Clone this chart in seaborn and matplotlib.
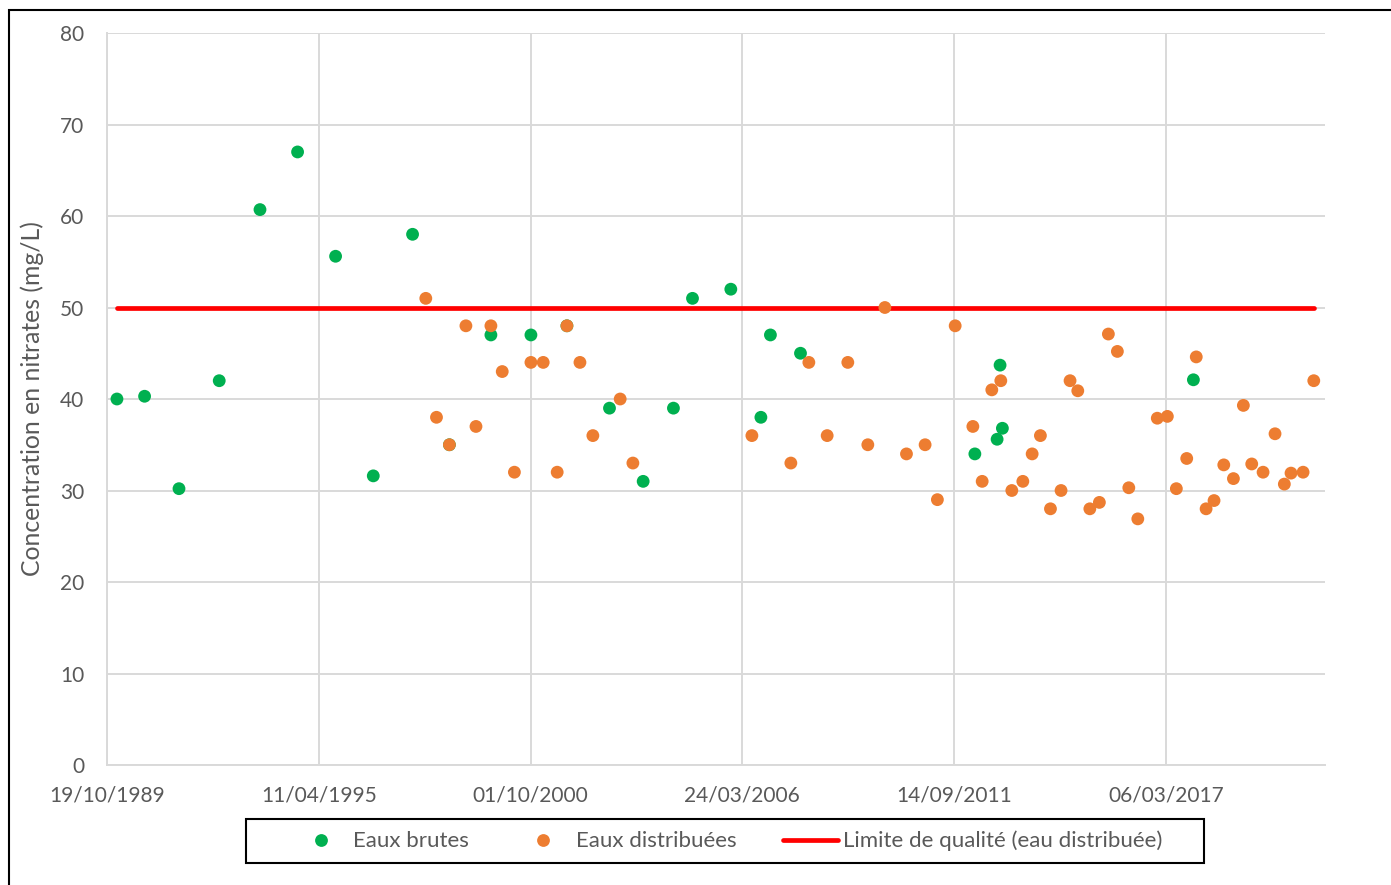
import numpy as np
import pandas as pd
import matplotlib
matplotlib.use("Agg")
import matplotlib.pyplot as plt
import matplotlib.dates as mdates
from matplotlib.lines import Line2D
from matplotlib.patches import Rectangle
import seaborn as sns

# Nitrate concentrations (mg/L) - raw water
brutes_dates = [
    "1990-01-21", "1990-10-09", "1991-08-30", "1992-09-13", "1993-10-03",
    "1994-09-23", "1995-09-17", "1996-09-07", "1997-09-13", "1998-08-27",
    "1999-09-23", "2000-10-05", "2001-09-10", "2002-10-17", "2003-08-31",
    "2004-06-12", "2004-12-09", "2005-12-06", "2006-09-16", "2006-12-15",
    "2007-09-25", "2012-03-29", "2012-10-25", "2012-11-22", "2012-12-14",
    "2017-11-22",
]
brutes_values = [
    40.0, 40.3, 30.2, 42.0, 60.7,
    67.0, 55.6, 31.6, 58.0, 35.0,
    47.0, 47.0, 48.0, 39.0, 31.0,
    39.0, 51.0, 52.0, 38.0, 47.0,
    45.0, 34.0, 35.6, 43.7, 36.8,
    42.1,
]

# Nitrate concentrations (mg/L) - distributed water
distrib_dates = [
    "1998-01-16", "1998-04-27", "1998-08-27", "1999-01-30", "1999-05-05",
    "1999-09-23", "2000-01-08", "2000-05-02", "2000-10-05", "2001-01-29",
    "2001-06-10", "2001-09-10", "2002-01-11", "2002-05-13", "2003-01-26",
    "2003-05-26", "2006-06-23", "2007-06-26", "2007-12-13", "2008-06-03",
    "2008-12-15", "2009-06-22", "2009-11-30", "2010-06-22", "2010-12-15",
    "2011-04-10", "2011-09-25", "2012-03-10", "2012-06-06", "2012-09-05",
    "2012-11-29", "2013-03-13", "2013-06-25", "2013-09-21", "2013-12-08",
    "2014-03-13", "2014-06-21", "2014-09-14", "2014-11-26", "2015-03-20",
    "2015-06-18", "2015-09-11", "2015-12-05", "2016-03-22", "2016-06-15",
    "2016-12-16", "2017-03-21", "2017-06-14", "2017-09-20", "2017-12-19",
    "2018-03-22", "2018-06-05", "2018-09-05", "2018-12-05", "2019-03-09",
    "2019-05-27", "2019-09-11", "2020-01-02", "2020-03-30", "2020-06-01",
    "2020-09-23", "2021-01-02",
]
distrib_values = [
    51.0, 38.0, 35.0, 48.0, 37.0,
    48.0, 43.0, 32.0, 44.0, 44.0,
    32.0, 48.0, 44.0, 36.0, 40.0,
    33.0, 36.0, 33.0, 44.0, 36.0,
    44.0, 35.0, 50.0, 34.0, 35.0,
    29.0, 48.0, 37.0, 31.0, 41.0,
    42.0, 30.0, 31.0, 34.0, 36.0,
    28.0, 30.0, 42.0, 40.9, 28.0,
    28.7, 47.1, 45.2, 30.3, 26.9,
    37.9, 38.1, 30.2, 33.5, 44.6,
    28.0, 28.9, 32.8, 31.3, 39.3,
    32.9, 32.0, 36.2, 30.7, 31.9,
    32.0, 42.0,
]

# Quality limit for distributed water
limite = 50

series_labels = ["Eaux brutes", "Eaux distribuées", "Limite de qualité (eau distribuée)"]
colors = {"Eaux brutes": "#00B050", "Eaux distribuées": "#ED7D31"}
limit_color = "#FF0000"

axis_start = "1989-10-19"
tick_step_days = 2000
axis_span_days = 11504
y_ticks = [0, 10, 20, 30, 40, 50, 60, 70, 80]

df = pd.concat([
    pd.DataFrame({"date": pd.to_datetime(brutes_dates), "nitrates": brutes_values,
                  "type": series_labels[0]}),
    pd.DataFrame({"date": pd.to_datetime(distrib_dates), "nitrates": distrib_values,
                  "type": series_labels[1]}),
], ignore_index=True)

limit_df = pd.DataFrame({"date": [df["date"].min(), df["date"].max()],
                         "nitrates": [limite, limite]})

sns.set_theme(style="white")
plt.rcParams["font.family"] = ["Lato", "DejaVu Sans"]
text_color = "#595959"
grid_color = "#D9D9D9"

fig = plt.figure(figsize=(13.91, 8.85), dpi=100)
ax = fig.add_axes([107 / 1391, 1 - 765 / 885, (1325 - 107) / 1391, (765 - 33) / 885])

sns.lineplot(data=limit_df, x="date", y="nitrates", ax=ax, color=limit_color,
             linewidth=3.4, solid_capstyle="round", zorder=2, legend=False)
sns.scatterplot(data=df, x="date", y="nitrates", hue="type", palette=colors,
                s=85, linewidth=0, ax=ax, zorder=3, legend=False)

start = pd.Timestamp(axis_start)
ticks = [start + pd.Timedelta(days=tick_step_days * k) for k in range(6)]
ax.set_xlim(start, start + pd.Timedelta(days=axis_span_days))
ax.set_xticks(ticks)
ax.xaxis.set_major_formatter(mdates.DateFormatter("%d/%m/%Y"))
ax.set_ylim(0, 80)
ax.set_yticks(y_ticks)

ax.grid(True, color=grid_color, linewidth=1.4)
ax.set_axisbelow(True)
for side in ["top", "right"]:
    ax.spines[side].set_visible(False)
for side in ["left", "bottom"]:
    ax.spines[side].set_color(grid_color)
    ax.spines[side].set_linewidth(1.4)

ax.tick_params(axis="both", length=0, labelsize=15, colors=text_color)
ax.tick_params(axis="x", pad=15)
ax.tick_params(axis="y", pad=16.5)
ax.set_xlabel("")
ax.set_ylabel("Concentration en nitrates (mg/L)", fontsize=17.8, color=text_color)
ax.yaxis.set_label_coords(-0.0517, 0.5)

handles = [
    Line2D([], [], marker="o", linestyle="none", markersize=9.2,
           markerfacecolor=colors[series_labels[0]], markeredgewidth=0),
    Line2D([], [], marker="o", linestyle="none", markersize=9.2,
           markerfacecolor=colors[series_labels[1]], markeredgewidth=0),
    Line2D([], [], color=limit_color, linewidth=3.4, solid_capstyle="round"),
]
leg = fig.legend(handles, series_labels, loc="center", ncol=3,
                 bbox_to_anchor=(728 / 1391, 1 - 841 / 885), frameon=False,
                 fontsize=16, handlelength=2.48, handletextpad=0.22,
                 columnspacing=2.1)
for t in leg.get_texts():
    t.set_color(text_color)

# Legend frame and outer chart border
fig.patches.append(Rectangle((246 / 1391, 1 - 863 / 885), (1204 - 246) / 1391,
                             44 / 885, transform=fig.transFigure, fill=False,
                             edgecolor="black", linewidth=1.5))
fig.patches.append(Rectangle((8.5 / 1391, -0.05), 1.1, 1.05 - 9.5 / 885,
                             transform=fig.transFigure, fill=False,
                             edgecolor="black", linewidth=1.5))

fig.savefig("out.png", dpi=100, facecolor="white")
